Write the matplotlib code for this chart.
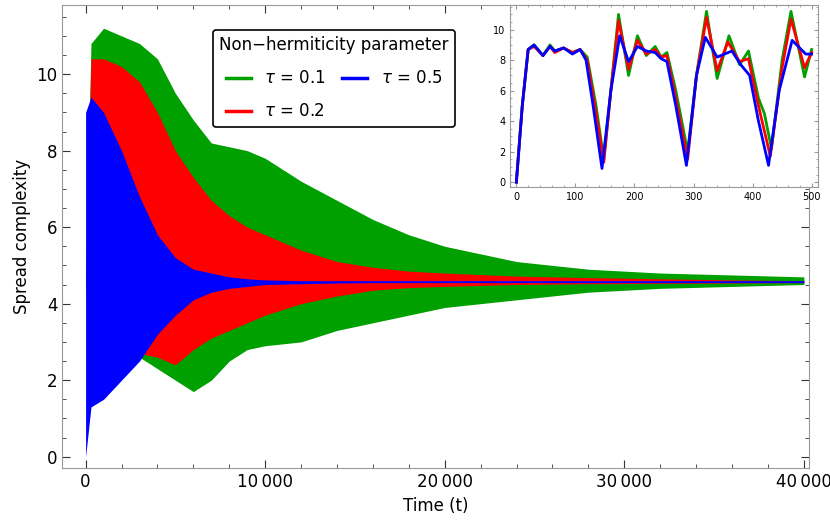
import matplotlib.pyplot as plt
from matplotlib.ticker import MultipleLocator, FuncFormatter

# envelopes of the fast oscillations
t_env = [0, 300, 1000, 2000, 3000, 4000, 5000, 6000, 7000, 8000, 9000, 10000, 12000,
         14000, 16000, 18000, 20000, 24000, 28000, 32000, 36000, 40000]
green_hi = [4.6, 10.8, 11.2, 11.0, 10.8, 10.4, 9.5, 8.8, 8.2, 8.1, 8.0, 7.8, 7.2,
            6.7, 6.2, 5.8, 5.5, 5.1, 4.9, 4.8, 4.75, 4.7]
green_lo = [4.6, 2.0, 1.8, 2.2, 2.6, 2.3, 2.0, 1.7, 2.0, 2.5, 2.8, 2.9, 3.0,
            3.3, 3.5, 3.7, 3.9, 4.1, 4.3, 4.4, 4.45, 4.5]
red_hi = [4.6, 10.4, 10.4, 10.2, 9.8, 9.0, 8.0, 7.3, 6.7, 6.3, 6.0, 5.8, 5.4,
          5.1, 4.95, 4.85, 4.8, 4.72, 4.68, 4.65, 4.62, 4.6]
red_lo = [4.6, 1.6, 1.8, 2.3, 2.7, 2.6, 2.4, 2.8, 3.1, 3.3, 3.5, 3.7, 4.0,
          4.2, 4.35, 4.42, 4.45, 4.5, 4.52, 4.53, 4.54, 4.55]
blue_hi = [9.0, 9.4, 9.0, 8.0, 6.8, 5.8, 5.2, 4.9, 4.8, 4.7, 4.65, 4.62, 4.6,
           4.6, 4.6, 4.6, 4.6, 4.6, 4.6, 4.6, 4.6, 4.6]
blue_lo = [0.0, 1.3, 1.5, 2.0, 2.5, 3.2, 3.7, 4.1, 4.3, 4.4, 4.45, 4.5, 4.52,
           4.54, 4.55, 4.55, 4.55, 4.55, 4.55, 4.55, 4.55, 4.55]

# inset, early times
g_t = [0, 10, 20, 30, 45, 57, 65, 80, 95, 108, 120, 135, 148, 160, 173, 190, 205, 220, 235,
       245, 255, 270, 290, 305, 322, 340, 360, 378, 393, 410, 420, 432, 450, 465, 488, 500]
g_y = [0, 5, 8.7, 9.0, 8.3, 9.0, 8.6, 8.8, 8.5, 8.7, 8.2, 5, 1.5, 6, 11.0, 7.0, 9.6, 8.3, 8.9,
       8.2, 8.5, 6, 2.0, 7, 11.2, 6.8, 9.6, 7.7, 8.6, 5.5, 4.5, 2.2, 8, 11.2, 6.9, 8.7]
r_t = [0, 10, 20, 30, 45, 57, 65, 80, 95, 108, 120, 135, 148, 160, 173, 190, 205, 220, 235,
       245, 255, 270, 290, 305, 322, 340, 358, 378, 393, 410, 430, 450, 465, 488, 500]
r_y = [0, 5, 8.7, 8.9, 8.3, 8.9, 8.5, 8.8, 8.5, 8.7, 8.0, 4.5, 1.3, 6, 10.6, 7.4, 9.3, 8.4, 8.7,
       8.2, 8.3, 5.5, 1.5, 7, 10.8, 7.3, 9.2, 7.9, 8.1, 5, 1.7, 7.5, 10.7, 7.5, 8.5]
b_t = [0, 10, 20, 30, 45, 57, 65, 80, 95, 108, 118, 130, 145, 160, 175, 190, 205, 220, 235,
       245, 255, 270, 288, 305, 320, 340, 365, 380, 395, 410, 427, 445, 467, 490, 500]
b_y = [0, 5, 8.7, 9.0, 8.3, 8.9, 8.6, 8.8, 8.4, 8.7, 8.0, 5, 0.9, 6, 9.6, 7.9, 8.9, 8.6, 8.5,
       8.1, 7.9, 5, 1.1, 7, 9.5, 8.2, 8.6, 7.7, 7.0, 4, 1.1, 6, 9.3, 8.4, 8.4]

GREEN, RED, BLUE = "#00a000", "#ff0000", "#0000ff"

fig = plt.figure(figsize=(8.3, 5.26), dpi=100)
ax = fig.add_axes([0.075, 0.11, 0.9, 0.88])
ax.fill_between(t_env, green_lo, green_hi, color=GREEN, lw=0)
ax.fill_between(t_env, red_lo, red_hi, color=RED, lw=0)
ax.fill_between(t_env, blue_lo, blue_hi, color=BLUE, lw=0)
ax.plot([], [], color=GREEN, lw=2.5, label=r"$\tau$ = 0.1")
ax.plot([], [], color=RED, lw=2.5, label=r"$\tau$ = 0.2")
ax.plot([], [], color=BLUE, lw=2.5, label=r"$\tau$ = 0.5")

ax.set_xlim(-1300, 40300)
ax.set_ylim(-0.3, 11.8)
ax.xaxis.set_major_locator(MultipleLocator(10000))
ax.xaxis.set_minor_locator(MultipleLocator(2000))
ax.yaxis.set_major_locator(MultipleLocator(2))
ax.yaxis.set_minor_locator(MultipleLocator(0.5))
ax.xaxis.set_major_formatter(FuncFormatter(lambda v, p: f"{int(v):,}".replace(",", "\u2009")))
ax.tick_params(which="both", direction="in", top=True, right=True, labelsize=12, colors="#333333",
               labelcolor="black")
ax.tick_params(which="major", length=6)
ax.tick_params(which="minor", length=3)
for s in ax.spines.values():
    s.set_color("#999999")
ax.set_xlabel("Time (t)", fontsize=12)
ax.set_ylabel("Spread complexity", fontsize=12)

leg = ax.legend(ncol=2, loc="upper left", bbox_to_anchor=(0.19, 0.965), title="Non\u2212hermiticity parameter",
                fontsize=12, title_fontsize=12, fancybox=True, edgecolor="black", framealpha=1,
                handlelength=1.5, columnspacing=1.0, labelspacing=0.9)
leg.get_frame().set_linewidth(1.2)

ins = fig.add_axes([0.615, 0.645, 0.37, 0.345])
ins.plot(g_t, g_y, color=GREEN, lw=2)
ins.plot(r_t, r_y, color=RED, lw=2)
ins.plot(b_t, b_y, color=BLUE, lw=2)
ins.set_xlim(-10, 510)
ins.set_ylim(-0.3, 11.6)
ins.xaxis.set_major_locator(MultipleLocator(100))
ins.xaxis.set_minor_locator(MultipleLocator(20))
ins.yaxis.set_major_locator(MultipleLocator(2))
ins.yaxis.set_minor_locator(MultipleLocator(0.5))
ins.tick_params(which="both", direction="in", top=True, right=True, labelsize=7, colors="#999999",
                labelcolor="black")
ins.tick_params(which="major", length=3)
ins.tick_params(which="minor", length=1.5)
for s in ins.spines.values():
    s.set_color("#999999")

fig.savefig("out.png", dpi=100)
